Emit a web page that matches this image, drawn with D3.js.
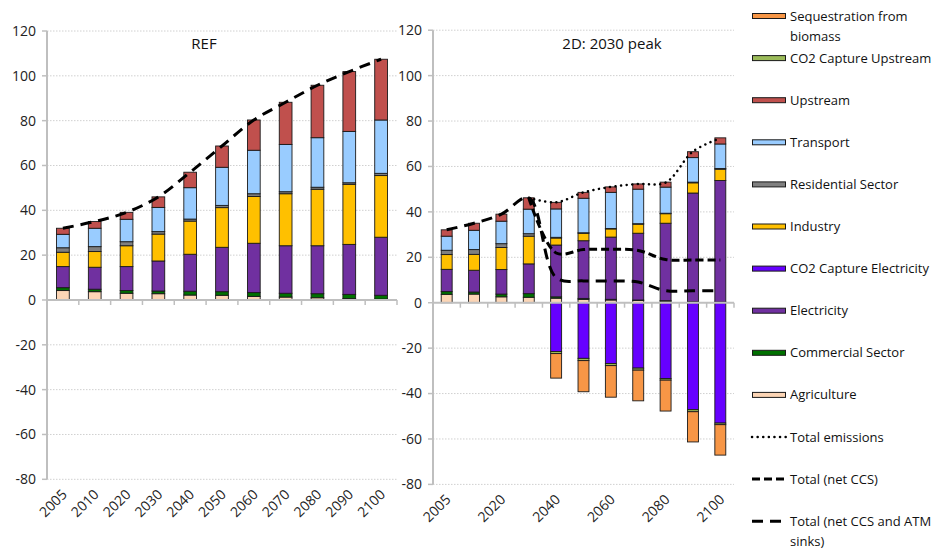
<!DOCTYPE html>
<html><head><meta charset="utf-8">
<script src="https://cdn.jsdelivr.net/npm/d3@7"></script>
<style>body{margin:0;background:#fff}svg{font-family:"Open Sans",sans-serif}</style>
</head><body><svg id="c" width="942" height="549"></svg>
<script>
const years = ["2005","2010","2020","2030","2040","2050","2060","2070","2080","2090","2100"];
const yTicks = [-80,-60,-40,-20,0,20,40,60,80,100,120];
const rightLabels = ["2005","2020","2040","2060","2080","2100"];

// REF scenario
const refAgriculture = [4.2,3.7,3.0,2.8,2.2,2.1,1.6,1.3,1.0,0.6,0.4];
const refCommercial  = [1.3,1.1,1.2,1.2,1.7,1.6,1.7,1.7,1.8,1.9,1.7];
const refElectricity = [9.4,9.8,10.7,13.4,16.5,19.8,22.0,21.2,21.4,22.3,25.9];
const refIndustry    = [6.4,7.0,9.3,12.0,14.8,17.7,20.9,23.2,25.2,26.8,27.5];
const refResidential = [2.0,2.2,1.8,1.1,0.9,1.0,1.2,0.9,0.9,0.7,1.0];
const refTransport   = [6.0,8.2,10.0,10.8,14.0,17.0,19.4,21.1,22.1,22.9,23.8];
const refUpstream    = [2.7,3.0,3.1,4.7,6.9,9.5,13.5,18.8,23.4,26.7,27.1];
const refTotal       = [32.0,35.0,39.1,46.0,57.0,68.7,80.3,88.2,95.8,101.9,107.4];

// 2D: 2030 peak scenario
const p2Agriculture = [3.7,3.8,2.6,2.4,2.0,1.5,1.2,1.0,0.7,0.3,0.2];
const p2Commercial  = [1.2,0.9,1.2,1.6,0.6,0.4,0.3,0.2,0.2,0.1,0.1];
const p2Electricity = [9.8,9.6,10.8,13.1,22.8,25.4,27.4,29.4,34.1,47.9,53.5];
const p2CaptureElec = [0,0,0,0,-21.5,-24.5,-26.8,-28.8,-33.4,-47.1,-53.0];
const p2Industry    = [6.5,7.0,9.7,12.2,3.1,3.3,3.6,4.0,4.2,4.5,5.0];
const p2Residential = [1.9,2.1,1.7,1.1,0.3,0.2,0.2,0.2,0.2,0.3,0.3];
const p2Transport   = [6.2,8.5,9.9,10.8,12.5,15.2,15.9,15.2,11.5,10.8,10.8];
const p2Upstream    = [2.8,3.1,3.1,5.0,2.9,2.6,2.4,2.3,2.2,2.6,2.7];
const p2CaptureUps  = [0,0,0,0,-0.9,-1.0,-0.9,-0.9,-0.7,-0.9,-0.7];
const p2SeqBiomass  = [0,0,0,0,-10.8,-13.7,-13.9,-13.5,-13.6,-13.3,-13.4];
const p2TotalEmissions = [null,null,null,46.2,44.2,48.6,51.0,52.3,52.9,66.6,72.4];
const p2TotalNetCCS    = [null,null,null,46.2,21.9,23.4,23.5,23.0,19.0,18.8,18.8];
const p2TotalNetATM    = [32.1,35.0,39.0,46.2,11.0,9.6,9.6,9.1,5.3,5.3,5.3];

const keys = ["agri","comm","elec","capElec","ind","res","trans","ups","capUps","seq"];
const colors = {agri:"#FCD5B5",comm:"#007000",elec:"#7030A0",capElec:"#6600FF",ind:"#FFC000",
  res:"#808080",trans:"#99CCFF",ups:"#C0504D",capUps:"#9BBB59",seq:"#F79646"};

function rows(src){ return years.map((y,i)=>{const r={year:y}; keys.forEach(k=>r[k]=src[k]?src[k][i]:0); return r;}); }
const refRows = rows({agri:refAgriculture,comm:refCommercial,elec:refElectricity,ind:refIndustry,res:refResidential,trans:refTransport,ups:refUpstream});
const p2Rows = rows({agri:p2Agriculture,comm:p2Commercial,elec:p2Electricity,capElec:p2CaptureElec,ind:p2Industry,res:p2Residential,trans:p2Transport,ups:p2Upstream,capUps:p2CaptureUps,seq:p2SeqBiomass});

const svg = d3.select("#c");
const axisGray = "#BFBFBF";

function panel(opt){
  const g = svg.append("g");
  const x = d3.scaleBand().domain(years).range([opt.x0,opt.x1]).paddingInner(0.6).paddingOuter(0.3);
  const y = d3.scaleLinear().domain([-80,120]).range([opt.yb,opt.yt]);
  // grid
  g.selectAll(".grid").data(yTicks.filter(t=>t!==0)).join("line")
    .attr("x1",opt.x0).attr("x2",opt.x1).attr("y1",d=>y(d)).attr("y2",d=>y(d))
    .attr("stroke","#D0D0D0").attr("stroke-width",1).attr("stroke-dasharray","1.5,1.5");
  // y axis
  g.append("line").attr("x1",opt.x0).attr("x2",opt.x0).attr("y1",y(120)).attr("y2",y(-80)).attr("stroke",axisGray).attr("stroke-width",2);
  g.selectAll(".yt").data(yTicks).join("line").attr("x1",opt.x0-5).attr("x2",opt.x0).attr("y1",d=>y(d)).attr("y2",d=>y(d)).attr("stroke",axisGray).attr("stroke-width",1.5);
  g.selectAll(".yl").data(yTicks).join("text").attr("x",opt.x0-11).attr("y",d=>y(d)).attr("dy","0.35em")
    .attr("text-anchor","end").attr("font-size",14).attr("fill","#222").text(d=>d);
  // bars
  const series = d3.stack().keys(keys).offset(d3.stackOffsetDiverging)(opt.rows);
  series.forEach(s=>{
    g.append("g").selectAll("rect").data(s.filter(d=>d[1]!==d[0])).join("rect")
      .attr("x",d=>x(d.data.year)).attr("width",x.bandwidth())
      .attr("y",d=>y(Math.max(d[0],d[1]))).attr("height",d=>Math.abs(y(d[0])-y(d[1])))
      .attr("fill",colors[s.key]).attr("stroke","#1a1a1a").attr("stroke-width",0.9);
  });
  // x axis at 0
  g.append("line").attr("x1",opt.x0).attr("x2",opt.x1).attr("y1",y(0)).attr("y2",y(0)).attr("stroke",axisGray).attr("stroke-width",2);
  const bounds = years.map(d=>x(d)-x.step()*x.paddingInner()/2).concat([opt.x1]);
  g.selectAll(".xt").data(bounds).join("line").attr("x1",d=>d).attr("x2",d=>d).attr("y1",y(0)).attr("y2",y(0)+5).attr("stroke",axisGray).attr("stroke-width",1.5);
  g.selectAll(".xl").data(opt.labels).join("text")
    .attr("transform",d=>`translate(${x(d)+x.bandwidth()/2+5},${y(-80)+16}) rotate(-45)`)
    .attr("text-anchor","end").attr("font-size",14).attr("fill","#222").text(d=>d);
  // lines
  const cx = d=>x(d)+x.bandwidth()/2;
  opt.lines.forEach(L=>{
    const line = d3.line().defined(d=>d[1]!=null).x(d=>cx(d[0])).y(d=>y(d[1])).curve(d3.curveCatmullRom.alpha(0.5));
    g.append("path").datum(years.map((yr,i)=>[yr,L.values[i]])).attr("d",line)
      .attr("fill","none").attr("stroke","#000").attr("stroke-width",L.w).attr("stroke-dasharray",L.dash).attr("stroke-linecap",L.cap||"butt");
  });
  g.append("text").attr("x",opt.tx).attr("y",opt.ty).attr("text-anchor","middle").attr("font-size",15).attr("fill","#111").text(opt.title);
}

const dotStyle = {w:2.5,dash:"0.1,5.5",cap:"round"};
const shortStyle = {w:3,dash:"8,4"};
const longStyle = {w:3,dash:"11,7"};

panel({x0:47,x1:397,yt:31,yb:479.3,rows:refRows,labels:years,title:"REF",tx:204,ty:49,
  lines:[Object.assign({values:refTotal},longStyle)]});
panel({x0:433,x1:734,yt:30.2,yb:484.4,rows:p2Rows,labels:rightLabels,title:"2D: 2030 peak",tx:612,ty:49,
  lines:[Object.assign({values:p2TotalEmissions},dotStyle),Object.assign({values:p2TotalNetCCS},shortStyle),Object.assign({values:p2TotalNetATM},longStyle)]});

// legend
const legendItems = [
  {label:["Sequestration from","biomass"],key:"seq"},
  {label:["CO2 Capture Upstream"],key:"capUps"},
  {label:["Upstream"],key:"ups"},
  {label:["Transport"],key:"trans"},
  {label:["Residential Sector"],key:"res"},
  {label:["Industry"],key:"ind"},
  {label:["CO2 Capture Electricity"],key:"capElec"},
  {label:["Electricity"],key:"elec"},
  {label:["Commercial Sector"],key:"comm"},
  {label:["Agriculture"],key:"agri"},
  {label:["Total emissions"],line:dotStyle},
  {label:["Total (net CCS)"],line:shortStyle},
  {label:["Total (net CCS and ATM","sinks)"],line:longStyle}
];
const lg = svg.append("g");
legendItems.forEach((it,i)=>{
  const cy = 16 + i*42.1;
  if(it.key){
    lg.append("rect").attr("x",752.5).attr("y",cy-2.5).attr("width",33).attr("height",5)
      .attr("fill",colors[it.key]).attr("stroke","#1a1a1a").attr("stroke-width",1);
  } else {
    lg.append("line").attr("x1",752).attr("x2",786).attr("y1",cy).attr("y2",cy).attr("stroke","#000")
      .attr("stroke-width",it.line.w).attr("stroke-dasharray",it.line.dash).attr("stroke-linecap",it.line.cap||"butt");
  }
  it.label.forEach((t,j)=>{
    lg.append("text").attr("x",790).attr("y",cy+j*20).attr("dy","0.35em").attr("font-size",13).attr("fill","#111").text(t);
  });
});
</script></body></html>
